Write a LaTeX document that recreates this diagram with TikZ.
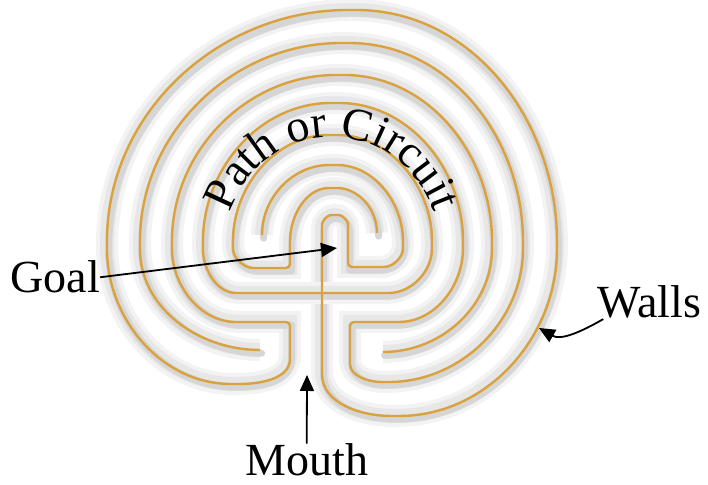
\documentclass[tikz,border=0pt]{standalone}
\usepackage{fontspec}
\setmainfont{Liberation Serif}
\usepackage{xcolor}
\usetikzlibrary{arrows.meta,decorations.text}
\definecolor{wallgold}{HTML}{D9A23E}
\definecolor{glowgray}{HTML}{CFCFCF}
\newcommand{\lblfont}{\fontsize{23}{27}\selectfont}

\begin{document}
\begin{tikzpicture}[x=0.5pt, y=0.5pt,
      wallglow/.style={draw=glowgray!85, line width=3.5pt, line join=round, line cap=round,
        transform canvas={shift={(0.8pt,-1.6pt)}},
        preaction={draw=glowgray!25, line width=11pt},
        preaction={draw=glowgray!50, line width=7pt}},
      wall/.style={draw=wallgold, line width=1.2pt, line join=round, rounded corners=2pt},
      lbl/.style={font=\lblfont, inner sep=0pt, anchor=base west},
      ptr/.style={-{Triangle[length=8pt, width=7pt]}, line width=0.9pt}]

      \useasboundingbox (0,0) rectangle (708,485);

      % Walls: shadow first, then the gold lines
      \foreach \lay in {wallglow, wall} {
        % wall from the upper-left dot through the mouth to the lower-right dot
        \draw[\lay] (262,250) to[out=90,in=180] (333,320) to[out=0,in=90] (403,240)
          to[out=-90,in=0] (380,218) -- (348,218) -- (348,257)
          to[out=90,in=0] (335,270) to[out=180,in=90] (322,257) -- (322,115)
          to[out=-90,in=180] (395,69) to[out=0,in=-90] (557,240)
          to[out=90,in=0] (352,475) to[out=180,in=90] (107,240)
          to[out=-90,in=180] (235,101) to[out=0,in=-90] (290,130) -- (290,163) -- (240,163)
          to[out=180,in=-90] (172,240) to[out=90,in=180] (340,410) to[out=0,in=90] (492,240)
          to[out=-90,in=0] (383,133);
        % wall from the upper-right dot to the lower-left dot
        \draw[\lay] (377,252) to[out=90,in=0] (333,297) to[out=180,in=90] (290,240)
          -- (290,217) -- (257,217) to[out=180,in=-90] (233,240)
          to[out=90,in=180] (333,350) to[out=0,in=90] (432,240)
          to[out=-90,in=0] (385,192) -- (240,192) to[out=180,in=-90] (203,240)
          to[out=90,in=180] (335,382) to[out=0,in=90] (463,240)
          to[out=-90,in=0] (395,163) -- (350,163) -- (350,125)
          to[out=-90,in=180] (385,103) to[out=0,in=-90] (523,240)
          to[out=90,in=0] (345,442) to[out=180,in=90] (140,240)
          to[out=-90,in=180] (260,135);
      }

      % Curved title between the circuits
      \path[decorate, decoration={text along path, text align=center,
          text={|\lblfont|Path or Circuit}}]
        (224,235) to[out=90,in=180] (332,348) to[out=0,in=90] (440,235);

      % Labels
      \node[lbl] (goal) at (10,192) {Goal};
      \node[lbl] (walls) at (597,167) {Walls};
      \node[lbl] (mouth) at (245,9) {Mouth};

      \coordinate (goalpt) at (337,237);
      \coordinate (wallpt) at (539,157);
      \coordinate (mouthpt) at (307,110);

      % Pointers
      \draw[ptr] (goal.east) -- (goalpt);
      \draw[ptr] (walls.200) to[out=210,in=-30] (wallpt);
      \draw[ptr] (mouth.north) -- (mouthpt);

    \end{tikzpicture}
\end{document}
